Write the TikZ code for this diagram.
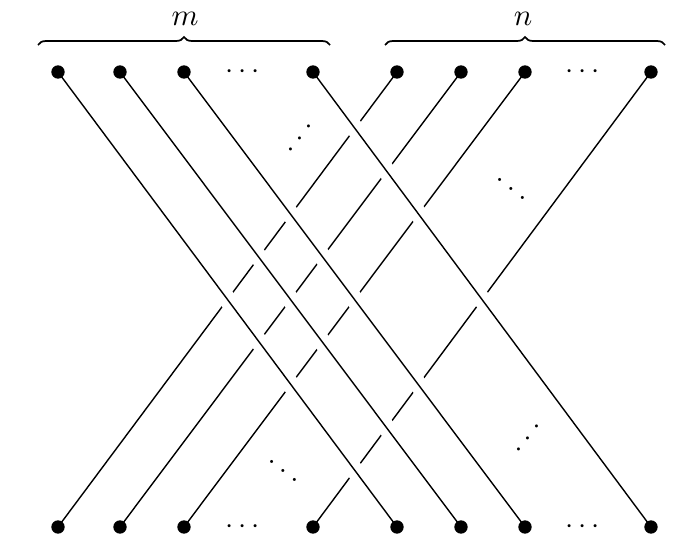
\documentclass[tikz,border=0pt]{standalone}
\usepackage{amsmath,amssymb}
\usetikzlibrary{decorations.pathreplacing,backgrounds}

\tikzset{
  bead/.style={circle,fill=black,inner sep=0pt,minimum size=10pt},
  under/.style={line width=1.05pt},
  over/.style={line width=1.05pt,preaction={draw=white,line width=13pt}},
  dotsnode/.style={scale=2.2,inner sep=0pt},
  bracket/.style={decorate,decoration={brace,amplitude=6pt},line width=1.3pt},
}

\begin{document}
\begin{tikzpicture}[x=0.75pt,y=0.75pt,yscale=-1,xscale=1]
\useasboundingbox (0,0) rectangle (688,554);

%Shape: Circle, top row (m)
\node[bead] (tm1) at (58,72) {};
\node[bead] (tm2) at (120,72) {};
\node[bead] (tm3) at (184,72) {};
\node[bead] (tm4) at (313,72) {};
%Shape: Circle, top row (n)
\node[bead] (tn1) at (397,72) {};
\node[bead] (tn2) at (461,72) {};
\node[bead] (tn3) at (525,72) {};
\node[bead] (tn4) at (651,72) {};
%Shape: Circle, bottom row left
\node[bead] (bl1) at (58,527) {};
\node[bead] (bl2) at (120,527) {};
\node[bead] (bl3) at (184,527) {};
\node[bead] (bl4) at (313,527) {};
%Shape: Circle, bottom row right
\node[bead] (br1) at (397,527) {};
\node[bead] (br2) at (461,527) {};
\node[bead] (br3) at (525,527) {};
\node[bead] (br4) at (651,527) {};

\begin{scope}[on background layer]
%Straight Lines: n strands (under)
\draw[under] (tn1.center) -- (bl1.center);
\draw[under] (tn2.center) -- (bl2.center);
\draw[under] (tn3.center) -- (bl3.center);
\draw[under] (tn4.center) -- (bl4.center);
%Straight Lines: m strands (over)
\draw[over] (tm1.center) -- (br1.center);
\draw[over] (tm2.center) -- (br2.center);
\draw[over] (tm3.center) -- (br3.center);
\draw[over] (tm4.center) -- (br4.center);
\end{scope}

%Shape: Brace
\draw[bracket] (38,45) -- (330,45);
\draw[bracket] (385,45) -- (665,45);

% Text Node
\node[scale=2.3] (lm) at (185,19) {$m$};
% Text Node
\node[scale=2.3] (ln) at (523,19) {$n$};
% Text Node
\node[dotsnode] (ht1) at (245,72) {$\cdots$};
\node[dotsnode] (ht2) at (585,72) {$\cdots$};
\node[dotsnode] (hb1) at (245,527) {$\cdots$};
\node[dotsnode] (hb2) at (585,527) {$\cdots$};
% Text Node
\node[dotsnode,rotate=90] (dg1) at (291,138) {$\ddots$};
\node[dotsnode] (dg2) at (511,180) {$\ddots$};
\node[dotsnode] (dg3) at (283,462) {$\ddots$};
\node[dotsnode,rotate=90] (dg4) at (519,438) {$\ddots$};

\end{tikzpicture}
\end{document}
